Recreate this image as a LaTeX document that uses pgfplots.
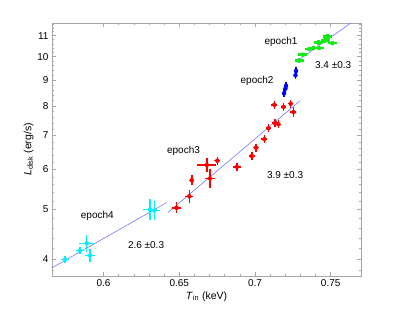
\documentclass[border=0pt]{standalone}
\usepackage{pgfplots}
\pgfplotsset{compat=1.18}
\usepackage{fontspec}
\setmainfont{Liberation Sans}
\definecolor{fitc}{RGB}{100,100,255}
\definecolor{cyn}{RGB}{0,240,255}
\definecolor{grn}{RGB}{20,235,20}
\begin{document}
\begin{tikzpicture}
\begin{axis}[
  at={(0,0)}, anchor=south west,
  scale only axis, width=309pt, height=253pt,
  ymode=log,
  xmin=0.566, xmax=0.770, ymin=3.70, ymax=11.65,
  xtick={0.6,0.65,0.7,0.75},
  xticklabels={0.6,0.65,0.7,0.75},
  minor x tick num=4,
  ytick={4,5,6,7,8,9,10,11},
  yticklabels={4,5,6,7,8,9,10,11},
  minor ytick={3.8,4.2,4.4,4.6,4.8,5.2,5.4,5.6,5.8,6.2,6.4,6.6,6.8,7.2,7.4,7.6,7.8,8.2,8.4,8.6,8.8,9.2,9.4,9.6,9.8,10.2,10.4,10.6,10.8,11.2,11.4,11.6},
  tick align=inside,
  major tick length=4pt, minor tick length=2.2pt,
  axis line style={gray!70, line width=0.6pt},
  every tick/.style={gray!70, line width=0.5pt},
  ticklabel style={font=\fontsize{10}{12}\selectfont, text=black},
  /pgf/number format/assume math mode=true,
  xlabel={\fontsize{10.5}{12}\selectfont\textit{T}\textsubscript{in} (keV)},
  ylabel={\fontsize{10.5}{12}\selectfont\textit{L}\textsubscript{disk} (erg/s)},
  xlabel style={yshift=2pt},
  ylabel style={yshift=-3pt},
  clip=true,
  error bars/error mark=none,
]
% fit lines
\addplot[fitc, line width=0.5pt] coordinates {(0.566,3.84) (0.6417,5.16)};
\addplot[fitc, line width=0.5pt] coordinates {(0.6424,4.93) (0.7298,8.19)};
\addplot[fitc, line width=0.5pt] coordinates {(0.7276,9.79) (0.7633,11.65)};
% epoch4 cyan
\addplot[cyn, only marks, mark=none, error bars/.cd, x dir=both, x explicit, y dir=both, y explicit relative,
  error bar style={line width=1.5pt}] table[x=x,y=y,x error=ex,y error=ey] {
x y ex ey
0.5746 3.99 0.0024 0.014
0.5845 4.15 0.0025 0.015
0.5889 4.29 0.0053 0.037
0.5911 4.06 0.0030 0.028
0.6307 5.00 0.0046 0.047
0.6336 4.98 0.0040 0.042
};
% epoch3 red
\addplot[red, only marks, mark=none, error bars/.cd, x dir=both, x explicit, y dir=both, y explicit relative,
  error bar style={line width=1.5pt}] table[x=x,y=y,x error=ex,y error=ey] {
x y ex ey
0.6483 5.04 0.0030 0.025
0.6567 5.31 0.0026 0.028
0.6583 5.71 0.0017 0.023
0.6682 6.12 0.0064 0.031
0.6703 5.76 0.0033 0.042
0.6752 6.24 0.0020 0.018
0.6880 6.07 0.0026 0.018
0.6979 6.37 0.0020 0.018
0.7007 6.62 0.0020 0.018
0.7062 6.88 0.0020 0.018
0.7089 7.23 0.0015 0.018
0.7133 7.40 0.0020 0.018
0.7155 7.36 0.0020 0.018
0.7128 8.04 0.0020 0.018
0.7188 7.97 0.0017 0.018
0.7236 8.08 0.0017 0.018
0.7254 7.78 0.0020 0.023
};
% epoch2 blue
\addplot[blue, only marks, mark=none, error bars/.cd, x dir=both, x explicit, y dir=both, y explicit relative,
  error bar style={line width=1.5pt}] table[x=x,y=y,x error=ex,y error=ey] {
x y ex ey
0.7271 9.37 0.0010 0.018
0.7267 9.19 0.0010 0.018
0.7205 8.76 0.0010 0.018
0.7201 8.65 0.0010 0.018
0.7192 8.47 0.0010 0.018
};
% epoch1 green
\addplot[grn, only marks, mark=none, error bars/.cd, x dir=both, x explicit, y dir=both, y explicit relative,
  error bar style={line width=2.5pt}] table[x=x,y=y,x error=ex,y error=ey] {
x y ex ey
0.7291 9.82 0.003 0.010
0.7316 10.09 0.003 0.010
0.7357 10.35 0.003 0.010
0.7386 10.40 0.003 0.010
0.7421 10.67 0.003 0.010
0.7423 10.40 0.003 0.010
0.7463 10.77 0.003 0.010
0.7478 10.96 0.003 0.010
0.7511 10.63 0.003 0.010
};
\begin{scope}[every node/.style={font=\fontsize{10}{12}\selectfont}]
\node at (axis cs:0.7172,10.70) {epoch1};
\node at (axis cs:0.7516,9.63) {3.4 ±0.3};
\node at (axis cs:0.7014,8.96) {epoch2};
\node at (axis cs:0.6528,6.52) {epoch3};
\node at (axis cs:0.7199,5.84) {3.9 ±0.3};
\node at (axis cs:0.5959,4.86) {epoch4};
\node at (axis cs:0.6281,4.26) {2.6 ±0.3};
\end{scope}
\node[anchor=base west, inner sep=0pt, font=\fontsize{10}{12}\selectfont] at (rel axis cs:0,1) [yshift=4pt, xshift=1pt] {×10\textsuperscript{37}};
\end{axis}
\pgfresetboundingbox
\path[use as bounding box] (-52pt,-36pt) rectangle (347pt,276pt);
\end{tikzpicture}
\end{document}
